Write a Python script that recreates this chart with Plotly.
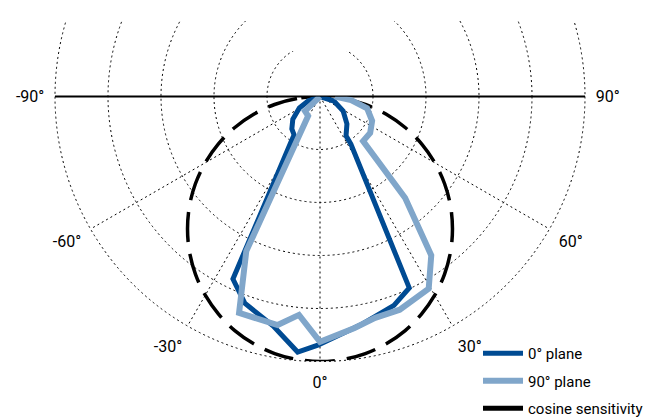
import plotly.graph_objects as go

W, H = 658, 418

# ---- data (angles in degrees, 0 = straight down, + to the right; r relative) ----
theta_0 = [-90, -69, -61, -50, -41, -34, -32.5, -25.5, -20, -11.5, -5, -0.5,
           10, 19.5, 25, 33, 33.5, 44.5, 58, 72, 90]
r_0 = [0, 0.048, 0.089, 0.134, 0.162, 0.175, 0.204, 0.763, 0.830, 0.884, 0.968, 0.938,
       0.876, 0.836, 0.797, 0.214, 0.178, 0.145, 0.103, 0.055, 0]

theta_90 = [-90, -46, -31.5, -25.5, -20.5, -10.5, -5.5, 0, 8.5, 14, 20.5, 29.5,
            35, 40, 44, 54, 65, 76, 83.5, 90]
r_90 = [0, 0.079, 0.086, 0.646, 0.872, 0.877, 0.828, 0.926, 0.883, 0.861, 0.859, 0.833,
        0.732, 0.500, 0.234, 0.234, 0.217, 0.183, 0.118, 0.057]

theta_cos = [-90, -85, -80, -75, -70, -65, -60, -55, -50, -45, -40, -35, -30, -25, -20,
             -15, -10, -5, 0, 5, 10, 15, 20, 25, 30, 35, 40, 45, 50, 55, 60, 65, 70,
             75, 80, 85, 90]
r_cos = [0.000, 0.087, 0.174, 0.259, 0.342, 0.423, 0.500, 0.574, 0.643, 0.707, 0.766,
         0.819, 0.866, 0.906, 0.940, 0.966, 0.985, 0.996, 1.000, 0.996, 0.985, 0.966,
         0.940, 0.906, 0.866, 0.819, 0.766, 0.707, 0.643, 0.574, 0.500, 0.423, 0.342,
         0.259, 0.174, 0.087, 0.000]

angle_ticks = [-90, -60, -30, 0, 30, 60, 90]
angle_labels = ["-90°", "-60°", "-30°", "0°", "30°", "60°", "90°"]
radial_levels = [0.2, 0.4, 0.6, 0.8, 1.0]

DARK = "#004b93"
LIGHT = "#80a6ca"
FONT = "Roboto, Liberation Sans, sans-serif"

# polar geometry (pixels)
CX, CY, R = 312, 88.5, 265
px = lambda x: x / W
py = lambda y: 1 - y / H

fig = go.Figure()
fig.add_trace(go.Scatterpolar(r=r_cos, theta=theta_cos, mode="lines", line_shape="spline",
                              line=dict(color="black", width=3.5, dash="30px,12px"),
                              showlegend=False, hoverinfo="skip"))
fig.add_trace(go.Scatterpolar(r=r_0, theta=theta_0, mode="lines", name="0° plane",
                              line=dict(color=DARK, width=5), legendgroup="a"))
fig.add_trace(go.Scatterpolar(r=r_90, theta=theta_90, mode="lines", name="90° plane",
                              line=dict(color=LIGHT, width=6), legendgroup="b"))
fig.add_trace(go.Scatterpolar(r=[None], theta=[None], mode="lines", name="cosine sensitivity",
                              line=dict(color="black", width=5), legendgroup="c"))

shapes = []
for lv in radial_levels:
    rr = lv * R
    shapes.append(dict(type="circle", xref="paper", yref="paper", layer="below",
                       x0=px(CX - rr), x1=px(CX + rr), y0=py(CY + rr), y1=py(CY - rr),
                       line=dict(color="black", width=1, dash="2px,3px")))
# masks over the top of the upper arcs
shapes.append(dict(type="rect", xref="paper", yref="paper", layer="below",
                   x0=0, x1=1, y0=py(13), y1=1.2, fillcolor="white", line=dict(width=0)))
shapes.append(dict(type="rect", xref="paper", yref="paper", layer="below",
                   x0=px(284), x1=px(340), y0=py(43), y1=1.2, fillcolor="white", line=dict(width=0)))
# horizontal -90/90 line
shapes.append(dict(type="line", xref="paper", yref="paper", layer="below",
                   x0=px(CX - R), x1=px(CX + R), y0=py(CY), y1=py(CY),
                   line=dict(color="black", width=2)))

fig.update_layout(
    width=W, height=H,
    margin=dict(l=0, r=0, t=0, b=0),
    paper_bgcolor="white",
    font=dict(family=FONT, size=16, color="black"),
    shapes=shapes,
    polar=dict(
        domain=dict(x=[px(CX - R), px(CX + R)], y=[py(CY + R), py(CY)]),
        sector=[-180, 0],
        bgcolor="rgba(0,0,0,0)",
        radialaxis=dict(range=[0, 1], showgrid=False, showline=False,
                        showticklabels=False, ticks=""),
        angularaxis=dict(rotation=-90, direction="counterclockwise",
                         tickmode="array", tickvals=angle_ticks, ticktext=angle_labels,
                         showgrid=True, gridcolor="black", gridwidth=1, griddash="2px,3px",
                         showline=False, ticks="outside", ticklen=7, tickcolor="rgba(0,0,0,0)",
                         tickfont=dict(family=FONT, size=16, color="black")),
    ),
    legend=dict(x=px(470), y=py(329), xanchor="left", yanchor="top", itemwidth=40,
                bgcolor="rgba(0,0,0,0)", tracegroupgap=5,
                font=dict(family=FONT, size=15, color="black")),
)

fig.write_html("out.html")
